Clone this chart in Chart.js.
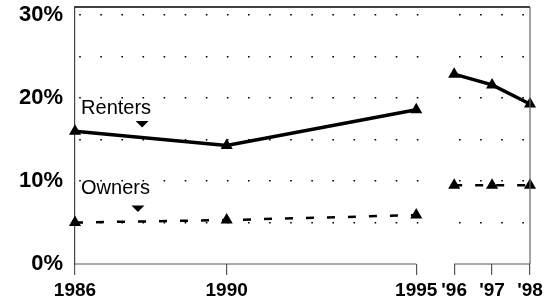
<!DOCTYPE html>
<html>
<head>
<meta charset="utf-8">
<script src="https://cdn.jsdelivr.net/npm/chart.js@4"></script>
<style>
  html, body { margin: 0; padding: 0; background: #fff; }
  #wrap { width: 546px; height: 303px; }
</style>
</head>
<body>
<div id="wrap"><canvas id="myChart" width="546" height="303"></canvas></div>
<script>
const years = [1986, 1990, 1995, 1996, 1997, 1998];
const yearLabels = ["1986", "1990", "1995", "'96", "'97", "'98"];
const renters = [16.0, 14.3, 18.6, 22.9, 21.6, 19.3];
const owners = [5.0, 5.3, 5.9, 9.5, 9.5, 9.5];
const yTickLabels = [0, 10, 20, 30];
const seriesNames = ["Renters", "Owners"];

// where the series names sit, in data units
const notes = [
  { text: seriesNames[0], x: 1986.16, y: 18.1, ax: 1987.77, ay: 16.9 },
  { text: seriesNames[1], x: 1986.16, y: 8.4, ax: 1987.66, ay: 6.7 },
];

const font = "'Liberation Sans', Arial, sans-serif";

function points(values) {
  return years.map((yr, i) => ({ x: yr, y: values[i] }));
}

// no line across the 1995 -> 1996 break
const breakSegment = {
  borderColor: (ctx) => (ctx.p0.parsed.x === 1995 ? "rgba(0,0,0,0)" : undefined),
};

const framePlugin = {
  id: "frame",
  beforeDatasetsDraw(chart) {
    const { ctx, chartArea, scales } = chart;
    const x = scales.x;
    // blank the grid dots in the gap between the two periods
    ctx.save();
    ctx.fillStyle = "#fff";
    const a = x.getPixelForValue(1995) + 4;
    const b = x.getPixelForValue(1996) - 4;
    ctx.fillRect(a, chartArea.top + 1, b - a, chartArea.bottom - chartArea.top - 1);
    ctx.restore();
  },
  afterDraw(chart) {
    const { ctx, chartArea, scales } = chart;
    const x = scales.x;
    const y = scales.y;
    ctx.save();
    // top border
    ctx.strokeStyle = "#000";
    ctx.lineWidth = 1.5;
    ctx.beginPath();
    ctx.moveTo(chartArea.left, chartArea.top);
    ctx.lineTo(chartArea.right, chartArea.top);
    ctx.stroke();
    // right border
    ctx.strokeStyle = "#666";
    ctx.lineWidth = 1.2;
    ctx.beginPath();
    ctx.moveTo(chartArea.right, chartArea.top);
    ctx.lineTo(chartArea.right, chartArea.bottom);
    ctx.stroke();
    // broken bottom axis
    ctx.strokeStyle = "#555";
    ctx.beginPath();
    ctx.moveTo(x.getPixelForValue(1986), chartArea.bottom);
    ctx.lineTo(x.getPixelForValue(1995), chartArea.bottom);
    ctx.moveTo(x.getPixelForValue(1996), chartArea.bottom);
    ctx.lineTo(x.getPixelForValue(1998), chartArea.bottom);
    ctx.stroke();

    // series name labels with little down arrows
    ctx.fillStyle = "#000";
    ctx.font = "20px " + font;
    ctx.textBaseline = "alphabetic";
    ctx.textAlign = "left";
    notes.forEach((n) => {
      ctx.fillText(n.text, x.getPixelForValue(n.x), y.getPixelForValue(n.y));
      const cx = x.getPixelForValue(n.ax);
      const cy = y.getPixelForValue(n.ay);
      ctx.beginPath();
      ctx.moveTo(cx - 6.5, cy - 3);
      ctx.lineTo(cx + 6.5, cy - 3);
      ctx.lineTo(cx, cy + 3.5);
      ctx.closePath();
      ctx.fill();
    });
    ctx.restore();
  },
};

const ctx = document.getElementById("myChart").getContext("2d");

const myChart = new Chart(ctx, {
  type: "line",
  data: {
    datasets: [
      {
        label: seriesNames[0],
        data: points(renters),
        borderColor: "#000",
        backgroundColor: "#000",
        borderWidth: 3.5,
        pointStyle: "triangle",
        pointRadius: 7,
        pointBorderWidth: 0,
        tension: 0,
        segment: breakSegment,
      },
      {
        label: seriesNames[1],
        data: points(owners),
        borderColor: "#000",
        backgroundColor: "#000",
        borderWidth: 2.5,
        borderDash: [8, 13],
        pointStyle: "triangle",
        pointRadius: 7,
        pointBorderWidth: 0,
        tension: 0,
        segment: breakSegment,
      },
    ],
  },
  options: {
    responsive: false,
    animation: false,
    clip: false,
    layout: { padding: { top: 6, right: 16, left: 0, bottom: 0 } },
    plugins: {
      legend: { display: false },
      tooltip: { enabled: false },
    },
    scales: {
      x: {
        type: "linear",
        min: 1986,
        max: 1998,
        afterBuildTicks: (scale) => {
          scale.ticks = years.map((v) => ({ value: v }));
        },
        afterFit: (scale) => {
          scale.height = 39;
          scale.paddingLeft = 0;
          scale.paddingRight = 0;
        },
        ticks: {
          autoSkip: false,
          maxRotation: 0,
          padding: 4,
          color: "#000",
          font: { family: font, size: 19, weight: "bold" },
          callback: (v) => yearLabels[years.indexOf(v)],
        },
        grid: {
          drawOnChartArea: false,
          drawTicks: true,
          tickLength: 11,
          color: "#555",
          lineWidth: 1.2,
        },
        border: { display: false },
      },
      y: {
        min: 0,
        max: 31,
        afterBuildTicks: (scale) => {
          scale.ticks = [0, 5, 10, 15, 20, 25, 30].map((v) => ({ value: v }));
        },
        afterFit: (scale) => {
          scale.width = 75;
          scale.paddingTop = 0;
          scale.paddingBottom = 0;
        },
        ticks: {
          padding: 12,
          color: "#000",
          font: { family: font, size: 22, weight: "bold" },
          callback: (v) => (yTickLabels.includes(v) ? v + "%" : ""),
        },
        grid: {
          drawTicks: false,
          color: (c) => (c.tick && c.tick.value === 0 ? "rgba(0,0,0,0)" : "#000"),
          lineWidth: 1.6,
        },
        // dotted grid rows
        border: { display: true, color: "#444", width: 1.2, dash: [1.6, 19.5], dashOffset: -4 },
      },
    },
  },
  plugins: [framePlugin],
});
</script>
</body>
</html>
